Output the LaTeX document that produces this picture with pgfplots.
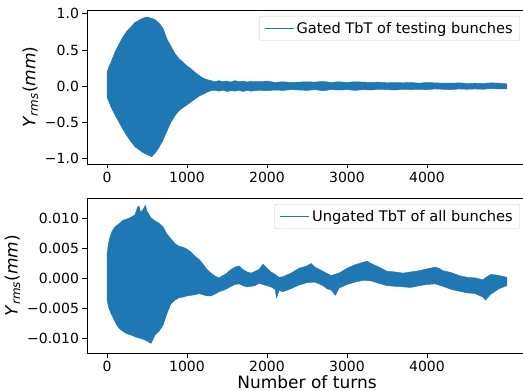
\documentclass[border=0pt]{standalone}
\usepackage{fontspec}
\setmainfont{DejaVu Sans}
\usepackage{pgfplots}
\pgfplotsset{compat=1.18}
\definecolor{c0}{HTML}{1F77B4}
\pgfplotsset{
  mpl/.style={
    scale only axis, width=440pt,
    xmin=-250, xmax=5250,
    axis line style={line width=0.8pt},
    tick align=outside, major tick length=4.5pt,
    every tick/.style={black, line width=0.8pt},
    xtick pos=bottom, ytick pos=left,
    xtick={0,1000,2000,3000,4000},
    xticklabels={0,1000,2000,3000,4000},
    tick label style={font=\fontsize{14}{16}\selectfont},
    label style={font=\fontsize{17}{20}\selectfont},
    legend style={at={(1,1)}, anchor=north east, xshift=-7pt, yshift=-6pt,
      draw=black!20, rounded corners=2.5pt, inner xsep=5pt, inner ysep=4pt,
      font=\fontsize{14.6}{16}\selectfont},
    legend cell align=left,
  },
  band/.style={fill=c0, draw=c0, line width=0.4pt, forget plot},
  lgd/.style={legend image code/.code={\draw[draw=c0, line width=1.5pt] (0pt,0pt) -- (29pt,0pt);}},
}
\begin{document}
\begin{tikzpicture}
\begin{axis}[mpl, at={(0pt,0pt)}, anchor=south west, height=154pt,
  ymin=-1.078, ymax=1.052,
  ytick={-1,-0.5,0,0.5,1}, yticklabels={−1.0,−0.5,0.0,0.5,1.0},
  ylabel={\textit{Y}\textsubscript{\textit{rms}}(\textit{mm})}]
\addplot[band] coordinates {
(0,0.19)(25,0.27)(50,0.33)(100,0.47)(150,0.58)(200,0.68)(250,0.76)(300,0.82)(350,0.88)(400,0.91)(450,0.94)(500,0.955)(550,0.94)(600,0.92)(650,0.87)(700,0.80)(750,0.65)(800,0.55)(850,0.45)(900,0.38)(950,0.33)(1000,0.28)(1050,0.24)(1100,0.19)(1150,0.15)(1200,0.11)(1250,0.09)(1300,0.075)(1350,0.06)(1400,0.075)(1450,0.06)(1500,0.07)(1550,0.055)(1600,0.075)(1650,0.06)(1700,0.07)(1750,0.055)(1800,0.065)(1900,0.06)(2000,0.07)(2100,0.05)(2200,0.06)(2300,0.05)(2400,0.055)(2500,0.06)(2600,0.055)(2700,0.065)(2800,0.05)(2900,0.06)(3000,0.05)(3100,0.06)(3200,0.055)(3300,0.05)(3400,0.055)(3500,0.045)(3600,0.05)(3700,0.045)(3800,0.05)(3900,0.04)(4000,0.05)(4100,0.045)(4200,0.04)(4300,0.04)(4400,0.045)(4500,0.035)(4600,0.04)(4700,0.035)(4800,0.045)(4900,0.04)(4999,0.03)
(4999,-0.04)(4900,-0.04)(4800,-0.035)(4700,-0.045)(4600,-0.04)(4500,-0.045)(4400,-0.04)(4300,-0.05)(4200,-0.045)(4100,-0.04)(4000,-0.05)(3900,-0.045)(3800,-0.05)(3700,-0.045)(3600,-0.055)(3500,-0.05)(3400,-0.045)(3300,-0.055)(3200,-0.05)(3100,-0.06)(3000,-0.05)(2900,-0.055)(2800,-0.05)(2700,-0.065)(2600,-0.05)(2500,-0.06)(2400,-0.055)(2300,-0.05)(2200,-0.06)(2100,-0.055)(2000,-0.065)(1900,-0.06)(1800,-0.07)(1750,-0.06)(1700,-0.075)(1650,-0.06)(1600,-0.07)(1550,-0.065)(1500,-0.075)(1450,-0.06)(1400,-0.07)(1350,-0.06)(1300,-0.065)(1250,-0.085)(1200,-0.115)(1150,-0.14)(1100,-0.18)(1050,-0.22)(1000,-0.26)(950,-0.30)(900,-0.34)(850,-0.41)(800,-0.50)(750,-0.62)(700,-0.75)(650,-0.85)(600,-0.93)(580,-0.95)(560,-0.98)(530,-0.96)(500,-0.95)(450,-0.92)(400,-0.88)(350,-0.84)(300,-0.77)(250,-0.69)(200,-0.60)(150,-0.50)(100,-0.40)(50,-0.29)(25,-0.22)(0,-0.16)
};
\addlegendimage{lgd}
\addlegendentry{Gated TbT of testing bunches}
\end{axis}
\begin{axis}[mpl, at={(0pt,-189pt)}, anchor=south west, height=155pt,
  ymin=-0.0124, ymax=0.0134,
  ytick={-0.01,-0.005,0,0.005,0.01}, yticklabels={−0.010,−0.005,0.000,0.005,0.010},
  scaled y ticks=false,
  ylabel={\textit{Y}\textsubscript{\textit{rms}}(\textit{mm})},
  xlabel={Number of turns}, xlabel style={yshift=3pt}]
\addplot[band] coordinates {
(0,0.004)(15,0.0055)(30,0.0066)(60,0.0078)(100,0.0086)(130,0.0089)(200,0.0097)(250,0.0099)(300,0.0102)(350,0.0106)(380,0.0118)(400,0.0121)(420,0.0110)(450,0.0115)(480,0.0122)(500,0.0112)(550,0.0101)(600,0.0096)(650,0.0092)(700,0.0086)(750,0.0074)(800,0.0066)(850,0.0058)(900,0.0054)(950,0.0052)(1000,0.0049)(1050,0.0044)(1100,0.0037)(1150,0.0032)(1200,0.0024)(1250,0.0015)(1300,0.0009)(1350,0.0004)(1400,0.0001)(1450,0.0005)(1500,0.0009)(1550,0.0015)(1600,0.0019)(1650,0.0021)(1700,0.0015)(1750,0.0011)(1800,0.0009)(1850,0.0012)(1900,0.0015)(1950,0.0024)(2000,0.0017)(2050,0.0011)(2100,0.0007)(2150,0.0002)(2200,0.0003)(2300,0.0009)(2400,0.0017)(2500,0.0021)(2550,0.0025)(2600,0.0019)(2700,0.0012)(2800,0.0005)(2900,0.0009)(3000,0.0017)(3100,0.0023)(3200,0.0027)(3250,0.0029)(3300,0.0025)(3400,0.0019)(3500,0.0012)(3600,0.0011)(3700,0.0009)(3800,0.0011)(3900,0.0013)(4000,0.0016)(4100,0.0019)(4150,0.0017)(4200,0.0013)(4300,0.0010)(4400,0.0005)(4500,0.0002)(4600,0.0001)(4700,-0.0002)(4750,0.0003)(4800,0.0007)(4900,0.0005)(4999,0.0002)
(4999,-0.0012)(4900,-0.0017)(4800,-0.0026)(4730,-0.0036)(4700,-0.0031)(4600,-0.0025)(4500,-0.0024)(4400,-0.0021)(4300,-0.0018)(4200,-0.0013)(4100,-0.0009)(4000,-0.0010)(3900,-0.0012)(3800,-0.0015)(3700,-0.0014)(3600,-0.0013)(3500,-0.0012)(3400,-0.0008)(3300,-0.0004)(3200,-0.0003)(3100,-0.0006)(3000,-0.0010)(2900,-0.0016)(2855,-0.0028)(2800,-0.0019)(2750,-0.0017)(2700,-0.0012)(2600,-0.0006)(2500,-0.0007)(2400,-0.0011)(2300,-0.0017)(2200,-0.0022)(2150,-0.0020)(2120,-0.0032)(2100,-0.0018)(2050,-0.0014)(2000,-0.0012)(1950,-0.0010)(1900,-0.0008)(1850,-0.0012)(1800,-0.0013)(1750,-0.0014)(1700,-0.0012)(1650,-0.0009)(1600,-0.0010)(1550,-0.0013)(1500,-0.0017)(1450,-0.0020)(1400,-0.0022)(1350,-0.0026)(1300,-0.0029)(1250,-0.0029)(1200,-0.0027)(1150,-0.0025)(1100,-0.0027)(1000,-0.0029)(950,-0.0031)(900,-0.0032)(850,-0.0036)(800,-0.0042)(750,-0.0058)(700,-0.0078)(650,-0.0088)(600,-0.0094)(580,-0.0100)(550,-0.0108)(500,-0.0104)(450,-0.0101)(400,-0.0099)(350,-0.0097)(300,-0.0094)(250,-0.0092)(200,-0.0088)(150,-0.0083)(120,-0.0077)(80,-0.0066)(50,-0.0058)(20,-0.0048)(0,-0.0035)
};
\addlegendimage{lgd}
\addlegendentry{Ungated TbT of all bunches}
\end{axis}
\pgfresetboundingbox
\path[use as bounding box] (-87pt,-227pt) rectangle (436pt,164pt);
\end{tikzpicture}
\end{document}
